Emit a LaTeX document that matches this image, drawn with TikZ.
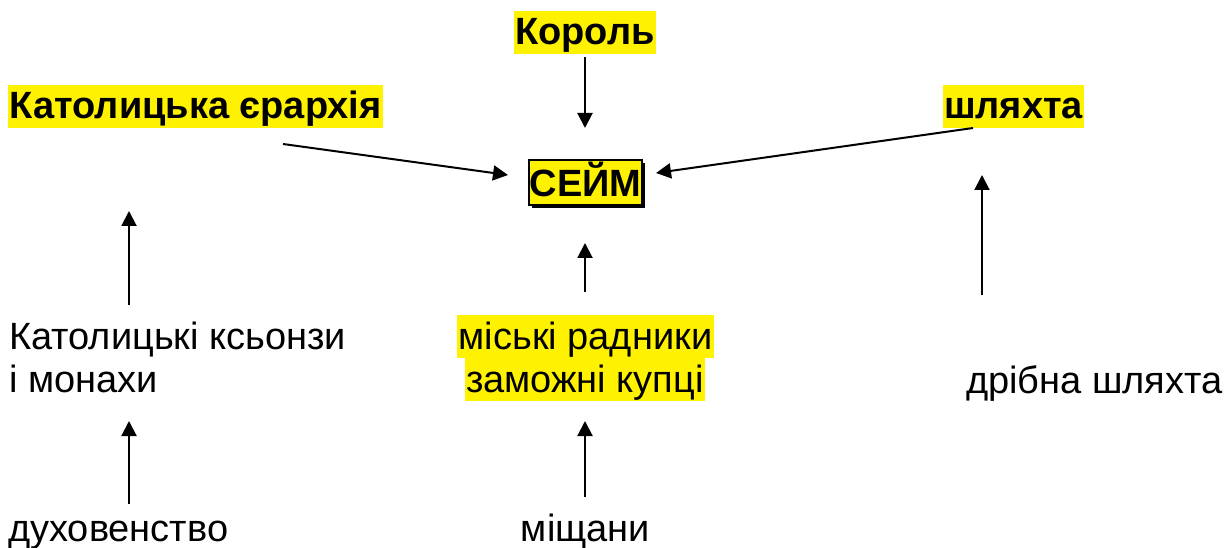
\documentclass[tikz,border=0pt]{standalone}
\usepackage{fontspec}
\setmainfont{Liberation Sans}
\usetikzlibrary{arrows.meta,shadows}
\begin{document}
\begin{tikzpicture}[x=1pt,y=-1pt,
  lbl/.style={inner sep=0pt,font=\fontsize{38}{43}\selectfont},
  hl/.style={lbl,fill=yellow,inner xsep=1.5pt,text height=34pt,text depth=9pt},
  hlb/.style={hl,font=\fontsize{38}{43}\selectfont\bfseries},
  arr/.style={line width=2pt,-{Triangle[length=15pt,width=15pt]}},
  sejm/.style={draw=black,line width=1.5pt,fill=yellow,inner sep=0pt,
    minimum width=113pt,text height=37pt,text depth=8pt,
    font=\fontsize{38}{43}\selectfont\bfseries,
    drop shadow={shadow xshift=3pt,shadow yshift=-3pt,fill=black,opacity=1}}]
\useasboundingbox (0,0) rectangle (1232,548);
% top nodes
\node[hlb,anchor=base] (korol) at (585,45) {Король};
\node[hlb,anchor=base west] (ierarch) at (8,119) {Католицька єрархія};
\node[hlb,anchor=base] (shl) at (1013.5,119) {шляхта};
\node[sejm,anchor=base] (sejm) at (585.5,197) {СЕЙМ};
% middle row
\node[lbl,anchor=base west] (ksi1) at (9,349) {Католицькі ксьонзи};
\node[lbl,anchor=base west] (ksi2) at (9,392) {і монахи};
\node[hl,anchor=base] (rad1) at (585.5,349) {міські радники};
\node[hl,anchor=base] (rad2) at (585,392) {заможні купці};
\node[lbl,anchor=base west] (dribna) at (966,393) {дрібна шляхта};
% bottom
\node[lbl,anchor=base west] (duh) at (8,541) {духовенство};
\node[lbl,anchor=base] (mish) at (585.5,541) {міщани};
% arrow end points
\coordinate (k1) at (585,57);    \coordinate (k2) at (585,128);
\coordinate (i1) at (283,144);   \coordinate (i2) at (508,175);
\coordinate (s1) at (973,128);   \coordinate (s2) at (656,173);
\coordinate (a1) at (129,305);   \coordinate (a2) at (129,211);
\coordinate (b1) at (585,292);   \coordinate (b2) at (585,243);
\coordinate (c1) at (982,295);   \coordinate (c2) at (982,175);
\coordinate (d1) at (129,504);   \coordinate (d2) at (129,421);
\coordinate (e1) at (585,497);   \coordinate (e2) at (585,421);
\draw[arr] (k1) -- (k2);
\draw[arr] (i1) -- (i2);
\draw[arr] (s1) -- (s2);
\draw[arr] (a1) -- (a2);
\draw[arr] (b1) -- (b2);
\draw[arr] (c1) -- (c2);
\draw[arr] (d1) -- (d2);
\draw[arr] (e1) -- (e2);
\end{tikzpicture}
\end{document}
